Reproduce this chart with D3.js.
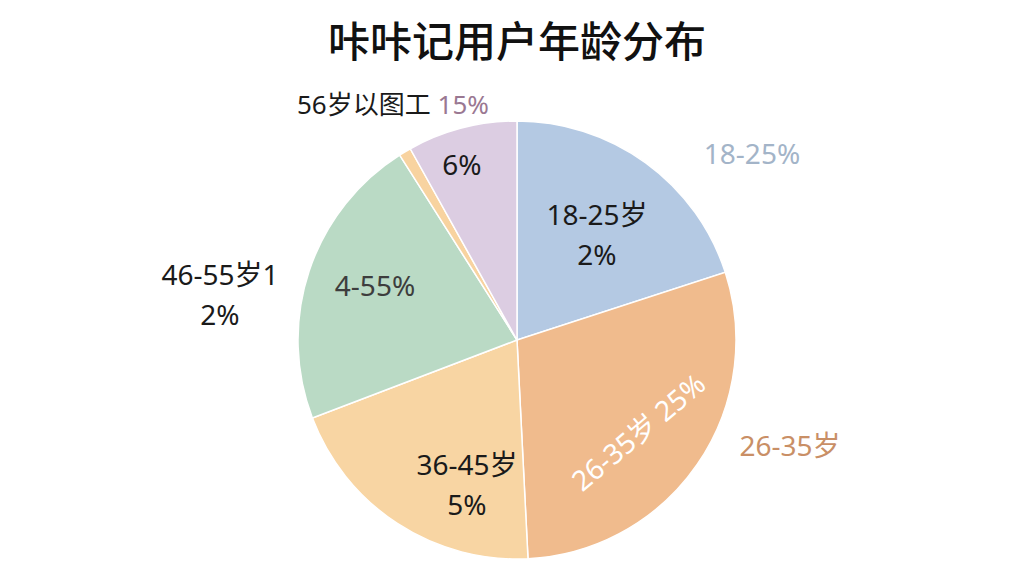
<!DOCTYPE html>
<html>
<head>
<meta charset="utf-8">
<script src="https://cdn.jsdelivr.net/npm/d3@7"></script>
<style>
  html, body { margin: 0; padding: 0; background: #fff; }
  svg { display: block; font-family: "Noto Sans", "Noto Sans CJK SC", sans-serif; }
</style>
</head>
<body>
<svg id="chart" width="1024" height="576"></svg>
<script>
const [W, H] = [1024, 576];

// data
const categories = ["18-25岁", "26-35岁", "36-45岁", "46-55岁", "其他", "56岁以上"];
const values = [20, 29.2, 20, 21.8, 0.9, 8.1];
const colors = ["#b4c9e3", "#f0bb8d", "#f8d5a3", "#badac5", "#f8d3a0", "#dccde2"];

const title = "咔咔记用户年龄分布";

const svg = d3.select("#chart");
const cx = 517, cy = 340, R = 219;

const pie = d3.pie().sort(null).value(d => d);
const arc = d3.arc().innerRadius(0).outerRadius(R);

const g = svg.append("g").attr("transform", `translate(${cx},${cy})`);

g.selectAll("path")
    .data(pie(values))
    .enter()
    .append("path")
    .attr("d", arc)
    .attr("fill", (d, i) => colors[i])
    .attr("stroke", "#ffffff")
    .attr("stroke-width", 1.5);

svg.append("text")
    .text(title)
    .attr("x", cx)
    .attr("y", 57)
    .attr("text-anchor", "middle")
    .style("font-family", "'Noto Sans CJK SC', sans-serif")
    .style("font-size", "42px")
    .style("font-weight", 500)
    .style("fill", "#111");

// labels as they appear in the picture
const annotations = [
    {lines: ["18-25岁", "2%"], x: 597, y: 225, fill: "#1a1a1a"},
    {lines: ["36-45岁", "5%"], x: 467, y: 475, fill: "#1a1a1a"},
    {lines: ["4-55%"], x: 375, y: 296, fill: "#3d3d3d"},
    {lines: ["6%"], x: 462, y: 175, fill: "#1a1a1a"},
    {lines: ["46-55岁1", "2%"], x: 220, y: 285, fill: "#1a1a1a"},
    {lines: ["18-25%"], x: 752, y: 164, fill: "#a3b4c8"},
    {lines: ["26-35岁"], x: 790, y: 456, fill: "#c98f66"}
];

annotations.forEach(a => {
    const t = svg.append("text")
        .attr("text-anchor", "middle")
        .style("font-size", "28px")
        .style("fill", a.fill);
    a.lines.forEach((l, i) => {
        t.append("tspan").attr("x", a.x).attr("y", a.y + i * 40).text(l);
    });
});

const topLabel = svg.append("text")
    .attr("x", 297)
    .attr("y", 114)
    .style("font-size", "26px");
topLabel.append("tspan").text("56岁以图工 ").style("fill", "#1a1a1a");
topLabel.append("tspan").text("15%").style("fill", "#9a7892");

svg.append("text")
    .text("26-35岁 25%")
    .attr("text-anchor", "middle")
    .attr("transform", "translate(645,440) rotate(-40)")
    .style("font-size", "28px")
    .style("fill", "#ffffff");
</script>
</body>
</html>
